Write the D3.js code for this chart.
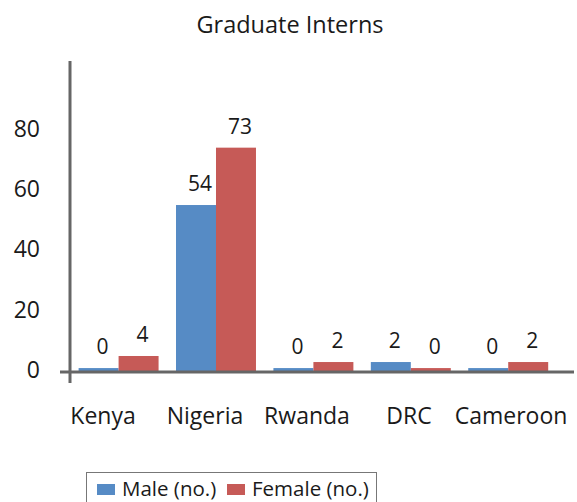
<!DOCTYPE html>
<html>
<head>
<meta charset="utf-8">
<script src="https://cdn.jsdelivr.net/npm/d3@7"></script>
<style>
  body { margin: 0; background: #fff; }
  text { font-family: "Open Sans", "Noto Sans", sans-serif; fill: #1a1a1a; }
</style>
</head>
<body>
<div id="chart"></div>
<script>
let countries = ["Kenya", "Nigeria", "Rwanda", "DRC", "Cameroon"];
let seriesNames = ["Male (no.)", "Female (no.)"];
let maleValues = [0, 54, 0, 2, 0];
let femaleValues = [4, 73, 2, 0, 2];
let yTicks = [0, 20, 40, 60, 80];

let colors = ["#568BC5", "#C65A57"];

let width = 577, height = 502;

let svg = d3.select("#chart")
  .append("svg")
  .attr("width", width)
  .attr("height", height);

/* scales */
let x = d3.scaleBand()
  .domain(countries)
  .range([78.6, 548.2])
  .paddingInner(0.179)
  .paddingOuter(0);

let xSub = d3.scaleBand()
  .domain(seriesNames)
  .range([0, x.bandwidth()]);

// category labels sit on their own, slightly wider spacing
let xLabel = d3.scalePoint()
  .domain(countries)
  .range([103, 511]);

let y = d3.scaleLinear()
  .domain([-1.3, 101.7])
  .range([372, 61]);

let rows = countries.map(function (c, i) {
  return { country: c, values: [maleValues[i], femaleValues[i]] };
});

/* title */
svg.append("text")
  .attr("x", 290)
  .attr("y", 33)
  .attr("text-anchor", "middle")
  .style("font-size", "23.5px")
  .text("Graduate Interns");

/* y tick labels */
svg.selectAll(".ytick")
  .data(yTicks)
  .enter().append("text")
  .attr("class", "ytick")
  .attr("x", 40)
  .attr("y", function (d) { return y(d) + 2; })
  .attr("dy", "0.35em")
  .attr("text-anchor", "end")
  .style("font-size", "23px")
  .text(function (d) { return d; });

/* bars */
let groups = svg.selectAll(".group")
  .data(rows)
  .enter().append("g")
  .attr("class", "group")
  .attr("transform", function (d) { return "translate(" + x(d.country) + ",0)"; });

groups.selectAll("rect")
  .data(function (d) { return d.values; })
  .enter().append("rect")
  .attr("x", function (d, i) { return xSub(seriesNames[i]); })
  .attr("width", xSub.bandwidth())
  .attr("y", function (d) { return y(d); })
  .attr("height", function (d) { return y.range()[0] - y(d); })
  .attr("fill", function (d, i) { return colors[i]; });

// value labels
groups.selectAll(".val")
  .data(function (d) { return d.values; })
  .enter().append("text")
  .attr("class", "val")
  .attr("x", function (d, i) { return xSub(seriesNames[i]) + xSub.bandwidth() / 2 + 4; })
  .attr("y", function (d) { return y(d) - 14; })
  .attr("text-anchor", "middle")
  .style("font-size", "21px")
  .text(function (d) { return d; });

/* axes lines */
svg.append("line")
  .attr("x1", 70).attr("x2", 70)
  .attr("y1", 61).attr("y2", 383)
  .attr("stroke", "#666").attr("stroke-width", 3);

svg.append("line")
  .attr("x1", 60).attr("x2", 574)
  .attr("y1", y.range()[0]).attr("y2", y.range()[0])
  .attr("stroke", "#666").attr("stroke-width", 3);

/* category labels */
svg.append("g")
  .selectAll("text")
  .data(countries)
  .enter().append("text")
  .attr("x", function (d) { return xLabel(d); })
  .attr("y", 424)
  .attr("text-anchor", "middle")
  .style("font-size", "23px")
  .text(function (d) { return d; });

/* legend */
let legend = svg.append("g");

legend.append("rect")
  .attr("x", 86.5).attr("y", 472.5)
  .attr("width", 290).attr("height", 40)
  .attr("fill", "none")
  .attr("stroke", "#777").attr("stroke-width", 1);

let legendX = [97, 227];
let legendItems = legend.selectAll(".item")
  .data(seriesNames)
  .enter().append("g")
  .attr("class", "item")
  .attr("transform", function (d, i) { return "translate(" + legendX[i] + ",0)"; });

legendItems.append("rect")
  .attr("x", 0).attr("y", 484)
  .attr("width", 18).attr("height", 11)
  .attr("fill", function (d, i) { return colors[i]; });

legendItems.append("text")
  .attr("x", 25).attr("y", 496)
  .style("font-size", "20.5px")
  .text(function (d) { return d; });
</script>
</body>
</html>
